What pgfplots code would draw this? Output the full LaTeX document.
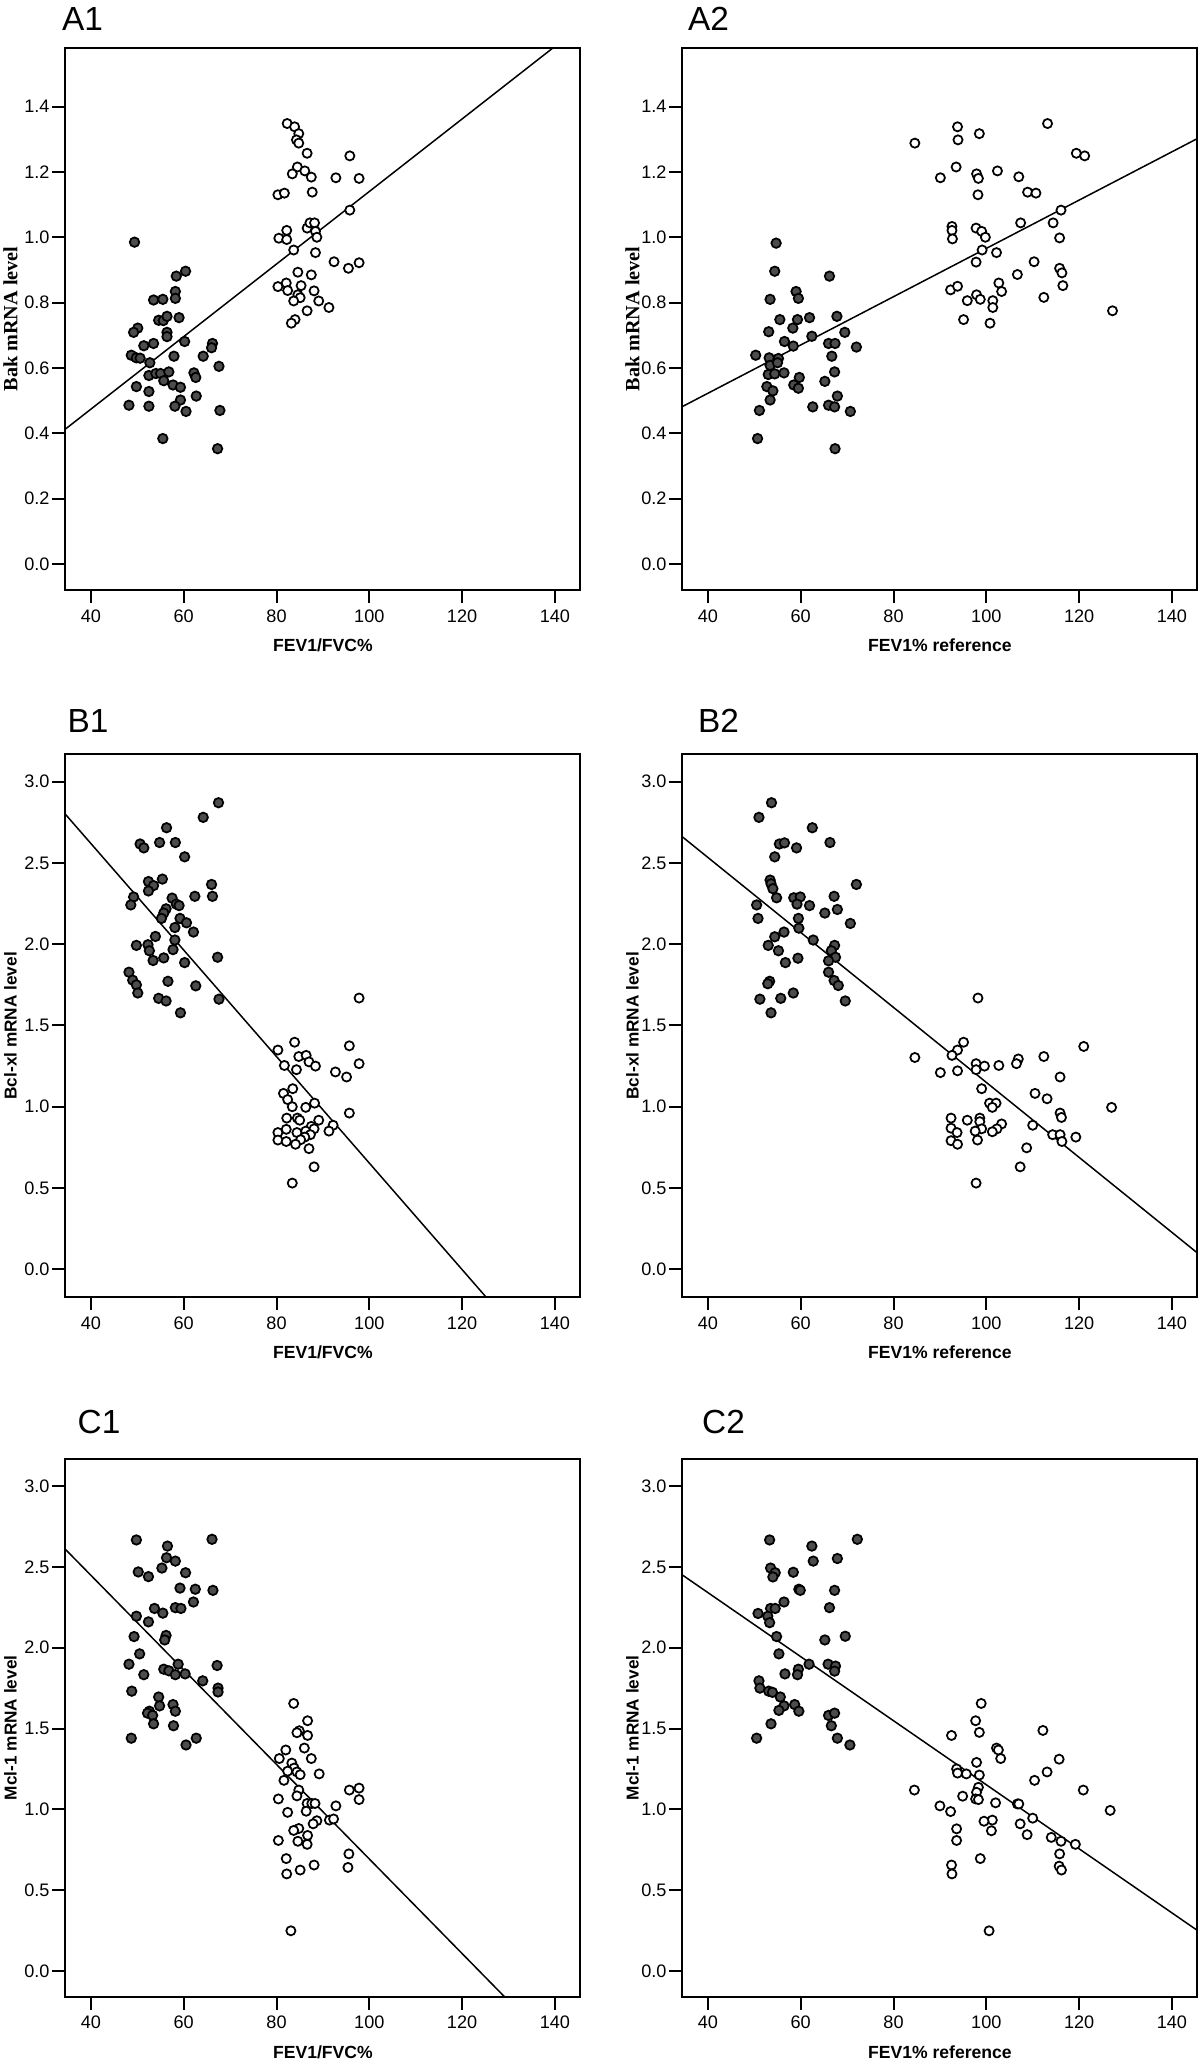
\documentclass[border=0pt]{standalone}
\usepackage{fontspec}
\setmainfont{Liberation Sans}
\newfontfamily\serifb{Liberation Serif}
\usepackage{pgfplots}
\pgfplotsset{compat=1.18}

\pgfplotsset{
  panel/.style={
    scale only axis, anchor=north west, width=103mm,
    xmin=34.5, xmax=145.5, xtick={40,60,80,100,120,140},
    tick pos=left, tick align=outside, major tick length=2.6mm,
    axis line style={line width=0.4mm},
    every tick/.style={black, line width=0.4mm},
    tick label style={font=\fontsize{10.3}{12}\selectfont},
    /pgf/number format/assume math mode=true,
    yticklabel style={inner xsep=0.5mm, /pgf/number format/.cd, fixed, fixed zerofill, precision=1},
    every axis x label/.style={at={([yshift=-11mm]rel axis cs:0.5,0)}, anchor=center,
      font=\bfseries\fontsize{10}{12}\selectfont},
  },
  leftcol/.style={every axis y label/.style={at={([xshift=-11mm]rel axis cs:0,0.5)}, anchor=center, rotate=90}},
  rightcol/.style={every axis y label/.style={at={([xshift=-10mm]rel axis cs:0,0.5)}, anchor=center, rotate=90}},
  rowA/.style={height=108.5mm, ymin=-0.08, ymax=1.58, ytick={0,0.2,0.4,0.6,0.8,1.0,1.2,1.4},
    ylabel style={font=\serifb\bfseries\fontsize{11.5}{13}\selectfont}},
  rowB/.style={height=108.6mm, ymin=-0.174, ymax=3.168, ytick={0,0.5,1.0,1.5,2.0,2.5,3.0},
    ylabel style={font=\bfseries\fontsize{9.8}{12}\selectfont}},
  rowC/.style={height=107.7mm, ymin=-0.162, ymax=3.171, ytick={0,0.5,1.0,1.5,2.0,2.5,3.0},
    ylabel style={font=\bfseries\fontsize{9.8}{12}\selectfont}},
  copd/.style={only marks, mark=*, mark size=2.7pt, mark options={fill=black!70, draw=black, line width=0.35mm}},
  ctrl/.style={only marks, mark=*, mark size=2.6pt, mark options={fill=white, draw=black, line width=0.35mm}},
  fit/.style={black, line width=0.3mm, no marks},
}

\begin{document}
\begin{tikzpicture}
\useasboundingbox (0,0) rectangle (240mm,-412.4mm);

% ---------- A1
\node[anchor=west, font=\fontsize{19}{21}\selectfont] at (11.2mm,-3.8mm) {A1};
\begin{axis}[panel, leftcol, rowA, at={(13.08mm,-9.54mm)},
  xlabel={FEV1/FVC\%}, ylabel={Bak mRNA level}]
\addplot[fit] coordinates {(34.5,0.413) (145.5,1.645)};
\addplot[copd] table {
49.4 0.985
60.4 0.896
58.4 0.881
58.2 0.834
58.2 0.813
53.5 0.808
55.5 0.810
54.6 0.746
55.6 0.745
56.4 0.758
59.0 0.754
56.4 0.709
56.4 0.696
50.1 0.722
49.2 0.709
51.4 0.668
53.5 0.675
60.2 0.681
66.2 0.675
66.0 0.662
64.2 0.636
57.9 0.636
48.7 0.639
49.8 0.631
50.6 0.630
52.7 0.616
67.6 0.605
52.5 0.577
54.0 0.583
55.0 0.583
56.8 0.588
62.2 0.585
62.6 0.571
55.7 0.561
57.7 0.548
59.3 0.541
49.8 0.543
52.5 0.528
62.7 0.514
59.3 0.502
48.2 0.486
52.5 0.483
58.1 0.483
60.5 0.467
67.8 0.470
55.5 0.384
67.3 0.353
};
\addplot[ctrl] table {
82.3 1.348
83.9 1.338
84.8 1.317
84.3 1.298
84.8 1.288
86.6 1.257
95.8 1.249
84.5 1.215
86.1 1.203
83.4 1.194
87.5 1.184
92.8 1.182
97.8 1.180
80.3 1.130
81.7 1.135
87.7 1.138
95.8 1.083
82.2 1.021
80.5 0.997
82.2 0.993
86.6 1.028
87.2 1.044
88.2 1.044
88.4 1.018
88.7 1.000
83.7 0.961
88.4 0.953
92.4 0.925
95.5 0.905
97.8 0.922
84.6 0.893
87.5 0.885
80.3 0.849
82.1 0.860
82.4 0.837
85.3 0.852
88.1 0.836
84.6 0.824
85.1 0.815
83.7 0.805
89.1 0.805
91.3 0.785
86.6 0.775
84.0 0.748
83.2 0.737
};
\end{axis}

% ---------- A2
\node[anchor=west, font=\fontsize{19}{21}\selectfont] at (136.4mm,-3.8mm) {A2};
\begin{axis}[panel, rightcol, rowA, at={(136.48mm,-9.54mm)},
  xlabel={FEV1\% reference}, ylabel={Bak mRNA level}]
\addplot[fit] coordinates {(34.5,0.482) (145.5,1.302)};
\addplot[copd] table {
54.7 0.982
54.4 0.896
66.2 0.881
53.4 0.810
59.0 0.834
59.5 0.813
55.5 0.748
59.3 0.748
61.9 0.754
67.8 0.758
53.1 0.711
58.3 0.722
62.4 0.697
69.5 0.709
56.5 0.681
58.4 0.667
66.0 0.675
67.4 0.675
72.0 0.664
50.3 0.639
53.2 0.631
55.2 0.629
66.7 0.636
53.4 0.608
55.0 0.616
53.0 0.580
54.4 0.582
56.4 0.585
67.3 0.588
59.7 0.571
65.2 0.559
58.5 0.548
59.5 0.538
52.7 0.543
54.0 0.530
53.4 0.502
67.9 0.514
51.1 0.470
62.6 0.481
66.0 0.486
67.3 0.481
70.7 0.467
50.7 0.384
67.4 0.353
};
\addplot[ctrl] table {
113.2 1.348
93.8 1.338
98.5 1.317
84.6 1.288
93.9 1.298
119.4 1.257
121.2 1.249
93.5 1.215
102.4 1.203
97.9 1.194
98.3 1.180
90.1 1.182
107.0 1.185
98.2 1.130
108.9 1.138
110.7 1.135
116.1 1.083
92.6 1.033
92.6 1.021
92.7 0.995
97.8 1.028
99.0 1.018
99.8 1.000
107.4 1.044
114.4 1.044
115.8 0.998
99.1 0.961
102.2 0.953
97.8 0.924
110.3 0.925
115.8 0.905
116.3 0.891
106.7 0.886
102.7 0.860
116.5 0.852
92.3 0.839
93.8 0.850
97.9 0.824
98.7 0.810
103.3 0.834
95.9 0.806
101.4 0.806
101.4 0.785
112.4 0.816
127.2 0.775
95.1 0.748
100.8 0.737
};
\end{axis}

% ---------- B1
\node[anchor=west, font=\fontsize{19}{21}\selectfont] at (12.3mm,-144.2mm) {B1};
\begin{axis}[panel, leftcol, rowB, at={(13.08mm,-150.86mm)},
  xlabel={FEV1/FVC\%}, ylabel={Bcl-xl mRNA level}]
\addplot[fit] coordinates {(34.5,2.799) (145.5,-0.839)};
\addplot[copd] table {
67.5 2.870
64.2 2.780
56.3 2.716
50.6 2.616
51.4 2.592
54.8 2.625
58.2 2.625
60.2 2.537
52.4 2.385
55.4 2.400
53.5 2.360
52.4 2.327
66.0 2.367
66.2 2.294
62.4 2.294
49.2 2.290
48.6 2.241
57.5 2.283
58.4 2.246
59.0 2.237
56.2 2.217
55.7 2.191
55.2 2.158
59.2 2.158
60.6 2.131
58.1 2.102
62.1 2.074
53.9 2.047
58.1 2.025
49.8 1.992
52.3 1.996
52.6 1.959
57.7 1.966
55.7 1.915
53.4 1.899
67.3 1.919
60.2 1.886
48.2 1.827
49.0 1.778
49.8 1.749
50.1 1.699
56.6 1.771
62.6 1.743
54.6 1.666
56.2 1.650
67.6 1.661
59.3 1.577
};
\addplot[ctrl] table {
97.8 1.668
83.9 1.396
95.7 1.374
80.3 1.348
84.8 1.308
86.4 1.315
87.0 1.275
88.4 1.249
81.7 1.253
97.8 1.264
84.3 1.227
92.7 1.213
95.1 1.182
83.5 1.110
81.5 1.081
82.4 1.043
83.4 0.999
86.3 0.995
88.2 1.021
82.2 0.929
84.5 0.929
85.0 0.916
89.1 0.916
87.5 0.878
95.7 0.960
92.2 0.885
91.3 0.849
80.3 0.840
82.1 0.860
84.4 0.840
86.3 0.849
88.1 0.863
87.3 0.827
86.1 0.812
80.3 0.794
82.1 0.785
85.2 0.796
84.1 0.768
87.0 0.741
88.1 0.629
83.4 0.529
};
\end{axis}

% ---------- B2
\node[anchor=west, font=\fontsize{19}{21}\selectfont] at (138.4mm,-144.2mm) {B2};
\begin{axis}[panel, rightcol, rowB, at={(136.48mm,-150.86mm)},
  xlabel={FEV1\% reference}, ylabel={Bcl-xl mRNA level}]
\addplot[fit] coordinates {(34.5,2.660) (145.5,0.099)};
\addplot[copd] table {
53.7 2.870
51.0 2.780
62.5 2.716
66.3 2.625
55.4 2.616
56.5 2.623
59.1 2.592
54.4 2.537
53.4 2.394
53.6 2.371
54.0 2.341
54.8 2.285
72.0 2.367
58.5 2.285
59.9 2.290
67.2 2.294
50.5 2.241
59.2 2.246
61.9 2.237
65.2 2.191
67.9 2.213
50.8 2.158
59.5 2.158
70.7 2.127
59.6 2.098
56.4 2.074
54.4 2.045
62.7 2.025
53.0 1.992
67.3 1.992
66.6 1.959
55.2 1.959
67.5 1.919
59.4 1.913
56.7 1.886
66.0 1.897
66.0 1.827
53.3 1.771
52.9 1.756
67.2 1.776
68.1 1.745
58.4 1.699
51.2 1.661
55.7 1.666
69.6 1.650
53.6 1.577
};
\addplot[ctrl] table {
98.2 1.668
95.1 1.396
121.0 1.370
93.8 1.348
84.6 1.302
92.6 1.315
106.9 1.293
112.4 1.308
97.8 1.264
99.6 1.249
102.7 1.253
106.5 1.264
93.8 1.220
97.8 1.227
90.1 1.209
115.9 1.182
99.0 1.110
110.5 1.081
113.1 1.048
100.7 1.021
102.1 1.021
101.3 0.995
127.0 0.995
115.9 0.960
116.2 0.933
92.4 0.929
95.9 0.916
98.6 0.929
98.6 0.907
92.4 0.867
103.3 0.893
102.3 0.863
101.3 0.845
99.0 0.863
97.6 0.849
93.7 0.840
110.0 0.885
114.3 0.827
115.9 0.827
119.3 0.812
116.3 0.785
92.4 0.790
93.8 0.768
98.1 0.794
108.7 0.746
107.3 0.629
97.8 0.529
};
\end{axis}

% ---------- C1
\node[anchor=west, font=\fontsize{19}{21}\selectfont] at (14.3mm,-284.4mm) {C1};
\begin{axis}[panel, leftcol, rowC, at={(13.08mm,-291.7mm)},
  xlabel={FEV1/FVC\%}, ylabel={Mcl-1 mRNA level}]
\addplot[fit] coordinates {(34.5,2.609) (145.5,-0.639)};
\addplot[copd] table {
49.8 2.667
66.1 2.671
56.5 2.629
56.3 2.557
58.2 2.536
55.3 2.493
50.2 2.469
60.4 2.464
52.4 2.440
59.2 2.369
62.5 2.362
66.3 2.355
62.1 2.283
53.7 2.243
55.5 2.214
58.2 2.248
59.4 2.243
49.8 2.195
52.4 2.160
49.3 2.069
56.2 2.076
55.9 2.048
50.5 1.962
48.2 1.898
58.8 1.898
67.2 1.890
55.7 1.867
56.8 1.857
58.2 1.833
60.3 1.838
51.4 1.833
64.1 1.795
67.4 1.750
67.4 1.726
48.8 1.731
54.6 1.695
54.8 1.640
52.6 1.607
52.2 1.595
53.3 1.581
57.7 1.648
58.2 1.607
53.5 1.529
57.8 1.517
48.7 1.440
62.7 1.440
60.5 1.398
};
\addplot[ctrl] table {
83.7 1.655
86.7 1.548
84.9 1.486
84.4 1.474
86.7 1.457
86.0 1.379
82.0 1.367
87.5 1.314
80.6 1.314
83.3 1.286
83.8 1.255
82.4 1.236
84.4 1.231
85.1 1.214
89.2 1.219
81.6 1.179
95.7 1.119
97.8 1.131
84.8 1.119
84.4 1.083
80.4 1.064
97.8 1.060
86.6 1.036
87.6 1.036
88.3 1.036
92.8 1.021
86.4 0.988
82.4 0.981
91.4 0.933
92.3 0.940
88.7 0.929
87.9 0.910
84.8 0.881
83.7 0.869
86.7 0.838
80.4 0.807
84.6 0.802
86.6 0.783
95.6 0.724
82.1 0.695
88.1 0.655
95.4 0.640
85.1 0.624
82.2 0.600
83.1 0.248
};
\end{axis}

% ---------- C2
\node[anchor=west, font=\fontsize{19}{21}\selectfont] at (139.2mm,-284.4mm) {C2};
\begin{axis}[panel, rightcol, rowC, at={(136.48mm,-291.7mm)},
  xlabel={FEV1\% reference}, ylabel={Mcl-1 mRNA level}]
\addplot[fit] coordinates {(34.5,2.450) (145.5,0.250)};
\addplot[copd] table {
53.3 2.667
72.2 2.671
62.4 2.629
67.9 2.552
62.7 2.536
53.5 2.493
54.5 2.464
54.0 2.438
58.4 2.467
59.6 2.362
59.9 2.355
67.3 2.355
56.4 2.283
66.2 2.248
53.5 2.243
54.5 2.243
50.8 2.212
52.9 2.195
53.3 2.155
54.8 2.069
65.2 2.048
69.6 2.071
55.3 1.962
61.8 1.898
65.9 1.898
67.5 1.886
59.5 1.867
59.3 1.833
67.3 1.855
56.6 1.838
51.0 1.795
51.2 1.750
53.1 1.731
53.9 1.724
55.6 1.695
56.4 1.640
55.3 1.612
58.7 1.648
59.6 1.607
66.0 1.581
67.3 1.595
53.6 1.529
66.6 1.517
50.5 1.440
67.9 1.440
70.6 1.398
};
\addplot[ctrl] table {
98.9 1.655
97.7 1.548
98.5 1.476
92.5 1.457
112.2 1.488
102.2 1.379
102.6 1.367
103.1 1.314
115.7 1.310
97.9 1.290
93.6 1.250
93.8 1.224
95.7 1.219
98.5 1.212
113.1 1.231
110.4 1.179
98.3 1.136
97.9 1.105
120.9 1.119
84.5 1.119
94.9 1.081
97.7 1.064
98.3 1.060
106.7 1.033
107.0 1.033
102.0 1.040
90.0 1.021
126.7 0.993
92.3 0.986
110.0 0.945
101.3 0.933
99.5 0.926
107.3 0.910
93.6 0.879
101.1 0.867
108.8 0.843
114.0 0.826
116.1 0.802
93.6 0.807
119.2 0.783
115.8 0.724
98.7 0.695
92.5 0.655
115.7 0.648
116.2 0.624
92.6 0.600
100.6 0.248
};
\end{axis}
\end{tikzpicture}
\end{document}
